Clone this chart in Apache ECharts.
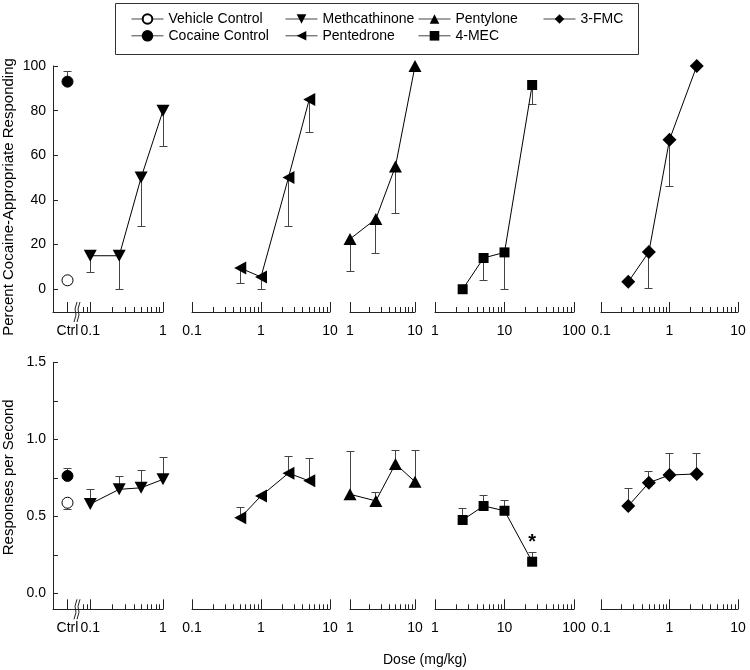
<!DOCTYPE html>
<html><head><meta charset="utf-8">
<script src="https://cdn.jsdelivr.net/npm/echarts@6/dist/echarts.min.js"></script>
<style>html,body{margin:0;padding:0;background:#fff}#c{width:750px;height:670px}</style>
</head><body><div id="c"></div>
<script>
// ---------------- DATA ----------------
const ctrlCategories = ['Ctrl'];
const vehicleCAR = [4],      vehicleCARSem = [2];
const cocaineCAR = [93],     cocaineCARSem = [4.6];
const vehicleRate = [0.588], vehicleRateSem = [0.045];
const cocaineRate = [0.762], cocaineRateSem = [0.05];

const methDose = [0.1, 0.25, 0.5, 1];
const methCAR = [15, 15, 50, 80];
const methCARSem = [7.3, 15, 22, 16];
const methRate = [0.58, 0.675, 0.685, 0.74];
const methRateSem = [0.095, 0.085, 0.115, 0.14];

const pentedroneDose = [0.5, 1, 2.5, 5];
const pentedroneCAR = [9.5, 5.5, 50, 85];
const pentedroneCARSem = [7, 5.5, 22, 15];
const pentedroneRate = [0.49, 0.632, 0.78, 0.73];
const pentedroneRateSem = [0.07, 0, 0.107, 0.146];

const pentyloneDose = [1, 2.5, 5, 10];
const pentyloneCAR = [22.5, 31.5, 55, 100];
const pentyloneCARSem = [14.5, 15.5, 21, 0];
const pentyloneRate = [0.643, 0.6, 0.84, 0.725];
const pentyloneRateSem = [0.28, 0.053, 0.09, 0.205];

const mecDose = [2.5, 5, 10, 25];
const mecCAR = [0, 14, 16.5, 91.5];
const mecCARSem = [0, 10.3, 16.5, 8.7];
const mecRate = [0.476, 0.567, 0.536, 0.205];
const mecRateSem = [0.076, 0.067, 0.064, 0.061];
const mecRateSig = ['', '', '', '*'];

const fmcDose = [0.25, 0.5, 1, 2.5];
const fmcCAR = [3.3, 16.7, 67, 100];
const fmcCARSem = [0, 16.4, 21, 0];
const fmcRate = [0.567, 0.718, 0.768, 0.775];
const fmcRateSem = [0.115, 0.076, 0.137, 0.134];

const pctTicks = [0, 20, 40, 60, 80, 100];
const rateTicks = [0, 0.25, 0.5, 0.75, 1, 1.25, 1.5];
const rateLabels = [0, 0.5, 1, 1.5];
const doseRanges = [[0.07, 1], [0.1, 10], [1, 10], [1, 100], [0.1, 10]];
const doseLabels = [[0.1, 1], [0.1, 1, 10], [1, 10], [1, 10, 100], [0.1, 1, 10]];

// ---------------- STYLE / LAYOUT ----------------
const FONT = '"Liberation Sans", Arial, Helvetica, sans-serif';
const AX = '#222';
const EB = '#444';
const panelX = [[79, 84], [192, 138], [350, 65], [435, 139], [601, 137]];
const rows = [
  {top: 66, height: 246, yMin: -10.2, yMax: 100, ticks: pctTicks, labels: pctTicks,
   fmt: v => String(v), name: 'Percent Cocaine-Appropriate Responding', drugDir: -1, namePad: [0, 16, 0, 0]},
  {top: 362.3, height: 247, yMin: -0.104, yMax: 1.5, ticks: rateTicks, labels: rateLabels,
   fmt: v => Number(v).toFixed(1), name: 'Responses per Second', drugDir: 1, namePad: [0, 0, 0, 17]}
];
const drugs = [
  {name: 'Methcathinone', dose: methDose, vals: [methCAR, methRate], sem: [methCARSem, methRateSem],
   symbol: 'triangle', size: [13, 12], rotate: 180},
  {name: 'Pentedrone', dose: pentedroneDose, vals: [pentedroneCAR, pentedroneRate], sem: [pentedroneCARSem, pentedroneRateSem],
   symbol: 'triangle', size: [13, 12], rotate: 90},
  {name: 'Pentylone', dose: pentyloneDose, vals: [pentyloneCAR, pentyloneRate], sem: [pentyloneCARSem, pentyloneRateSem],
   symbol: 'triangle', size: [13, 12], rotate: 0},
  {name: '4-MEC', dose: mecDose, vals: [mecCAR, mecRate], sem: [mecCARSem, mecRateSem],
   symbol: 'rect', size: [10, 10], rotate: 0, sig: [null, mecRateSig]},
  {name: '3-FMC', dose: fmcDose, vals: [fmcCAR, fmcRate], sem: [fmcCARSem, fmcRateSem],
   symbol: 'diamond', size: [14, 14], rotate: 0}
];
const controls = [
  {name: 'Vehicle Control', vals: [vehicleCAR, vehicleRate], sem: [vehicleCARSem, vehicleRateSem], fill: '#fff', dir: -1},
  {name: 'Cocaine Control', vals: [cocaineCAR, cocaineRate], sem: [cocaineCARSem, cocaineRateSem], fill: '#000', dir: 1}
];

function minorTicks(lo, hi) {
  const out = [];
  for (let d = Math.floor(Math.log10(lo)); d <= Math.ceil(Math.log10(hi)); d++) {
    for (let k = 2; k <= 9; k++) {
      const v = k * Math.pow(10, d);
      if (v > lo * 1.0001 && v < hi * 0.9999) out.push(v);
    }
  }
  return out;
}
function crisp(v) { return Math.round(v - 0.5) + 0.5; }
function errRender(dir) {
  return function (params, api) {
    const e = api.value(2);
    if (!e) return null;
    const x = api.value(0), y = api.value(1);
    const p0 = api.coord([x, y]);
    const p1 = api.coord([x, y + dir * e]);
    const xx = crisp(p0[0]), yy = crisp(p1[1]);
    return {type: 'group', children: [
      {type: 'line', shape: {x1: xx, y1: p0[1], x2: xx, y2: yy}, style: {stroke: EB, lineWidth: 1}},
      {type: 'line', shape: {x1: xx - 4, y1: yy, x2: xx + 4, y2: yy}, style: {stroke: EB, lineWidth: 1}}
    ]};
  };
}
function breakRender(params, api) {
  const cs = params.coordSys;
  const x = cs.x - 2, y = cs.y + cs.height;
  return {type: 'group', children: [
    {type: 'polyline', shape: {points: [[x - 3, y + 10], [x - 1, y + 3], [x - 2, y - 3], [x, y - 10]]}, style: {stroke: AX, fill: null, lineWidth: 1}},
    {type: 'polyline', shape: {points: [[x, y + 10], [x + 2, y + 3], [x + 1, y - 3], [x + 3, y - 10]]}, style: {stroke: AX, fill: null, lineWidth: 1}}
  ]};
}

const grids = [], xAxes = [], yAxes = [], series = [];
const txt = {color: '#000', fontSize: 14, fontFamily: FONT};
const nameTxt = {color: '#000', fontSize: 15, fontFamily: FONT};

rows.forEach((row, r) => {
  const cg = grids.length;
  grids.push({left: 53, top: row.top, width: 29, height: row.height, outerBoundsMode: 'none'});
  const cx = xAxes.length;
  xAxes.push({type: 'category', gridIndex: cg, data: ctrlCategories, boundaryGap: true, position: 'bottom',
    axisLine: {show: true, onZero: false, lineStyle: {color: AX, width: 1}},
    axisTick: {show: true, inside: true, length: 10, alignWithLabel: true, lineStyle: {color: AX}},
    axisLabel: Object.assign({margin: 12}, txt), splitLine: {show: false}});
  yAxes.push({type: 'value', gridIndex: cg, min: row.yMin, max: row.yMax, position: 'left',
    name: row.name, nameLocation: 'middle', nameGap: 37, nameTextStyle: Object.assign({padding: row.namePad}, nameTxt),
    axisLine: {show: true, lineStyle: {color: AX, width: 1}},
    axisTick: {show: true, inside: true, length: 5, customValues: row.ticks, lineStyle: {color: AX}},
    axisLabel: Object.assign({margin: 7, customValues: row.labels, formatter: row.fmt}, txt),
    splitLine: {show: false}});
  controls.forEach(c => {
    series.push({type: 'custom', name: c.name + ' sem', xAxisIndex: cx, yAxisIndex: cg, z: 1, clip: false,
      renderItem: errRender(c.dir),
      data: ctrlCategories.map((k, i) => [k, c.vals[r][i], c.sem[r][i]])});
    series.push({type: 'line', name: c.name, xAxisIndex: cx, yAxisIndex: cg, z: 3, clip: false,
      symbol: 'circle', symbolSize: 11, itemStyle: {color: c.fill, borderColor: '#000', borderWidth: 1},
      lineStyle: {color: '#000', width: 1},
      data: ctrlCategories.map((k, i) => [k, c.vals[r][i]])});
  });

  drugs.forEach((d, p) => {
    const g = grids.length;
    grids.push({left: panelX[p][0], top: row.top, width: panelX[p][1], height: row.height, outerBoundsMode: 'none'});
    const [lo, hi] = doseRanges[p];
    const mx = xAxes.length;
    xAxes.push({type: 'log', logBase: 10, gridIndex: g, min: lo, max: hi, position: 'bottom',
      axisLine: {show: true, onZero: false, lineStyle: {color: AX, width: 1}},
      axisTick: {show: true, inside: true, length: 10, customValues: doseLabels[p], lineStyle: {color: AX}},
      axisLabel: Object.assign({margin: 12, customValues: doseLabels[p],
        formatter: v => String(parseFloat(Number(v).toPrecision(6)))}, txt),
      splitLine: {show: false}, minorTick: {show: false}});
    xAxes.push({type: 'log', logBase: 10, gridIndex: g, min: lo, max: hi, position: 'bottom',
      axisLine: {show: false, onZero: false},
      axisTick: {show: true, inside: true, length: 5, customValues: minorTicks(lo, hi), lineStyle: {color: AX}},
      axisLabel: {show: false}, splitLine: {show: false}});
    yAxes.push({type: 'value', gridIndex: g, min: row.yMin, max: row.yMax, show: false, splitLine: {show: false}});
    series.push({type: 'custom', name: d.name + ' sem', xAxisIndex: mx, yAxisIndex: g, z: 1, clip: false,
      renderItem: errRender(row.drugDir),
      data: d.dose.map((x, i) => [x, d.vals[r][i], d.sem[r][i]])});
    const sig = d.sig && d.sig[r];
    series.push({type: 'line', name: d.name, xAxisIndex: mx, yAxisIndex: g, z: 3, clip: false,
      symbol: d.symbol, symbolSize: d.size, symbolRotate: d.rotate,
      itemStyle: {color: '#000'}, lineStyle: {color: '#000', width: 1},
      label: sig ? {show: true, position: 'top', distance: 4, formatter: q => sig[q.dataIndex],
        color: '#000', fontSize: 20, fontWeight: 'bold', fontFamily: FONT} : {show: false},
      data: d.dose.map((x, i) => [x, d.vals[r][i]])});
    if (p === 0) {
      series.push({type: 'custom', xAxisIndex: mx, yAxisIndex: g, z: 4, clip: false,
        renderItem: breakRender, data: [[1, 0]]});
    }
  });
});

const legendBase = {orient: 'vertical', padding: 0, itemGap: 2.8, itemWidth: 32, itemHeight: 12,
  selectedMode: false, textStyle: txt, top: 12, lineStyle: {width: 1, color: '#444'}};
const legends = [
  Object.assign({left: 131, data: ['Vehicle Control', 'Cocaine Control']}, legendBase),
  Object.assign({left: 285, data: ['Methcathinone', 'Pentedrone']}, legendBase),
  Object.assign({left: 418, data: ['Pentylone', '4-MEC']}, legendBase),
  Object.assign({left: 543, data: ['3-FMC']}, legendBase)
];

const chart = echarts.init(document.getElementById('c'), null, {renderer: 'canvas'});
chart.setOption({
  animation: false,
  backgroundColor: '#fff',
  textStyle: {fontFamily: FONT},
  grid: grids, xAxis: xAxes, yAxis: yAxes, legend: legends, series: series,
  graphic: [
    {type: 'rect', z: 0, shape: {x: 115.5, y: 3.5, width: 523, height: 51}, style: {fill: 'none', stroke: '#333', lineWidth: 1}},
    {type: 'text', x: 425, y: 660, style: {text: 'Dose (mg/kg)', textAlign: 'center', textVerticalAlign: 'middle', font: '14px ' + FONT, fill: '#000'}}
  ]
});
</script>
</body></html>
